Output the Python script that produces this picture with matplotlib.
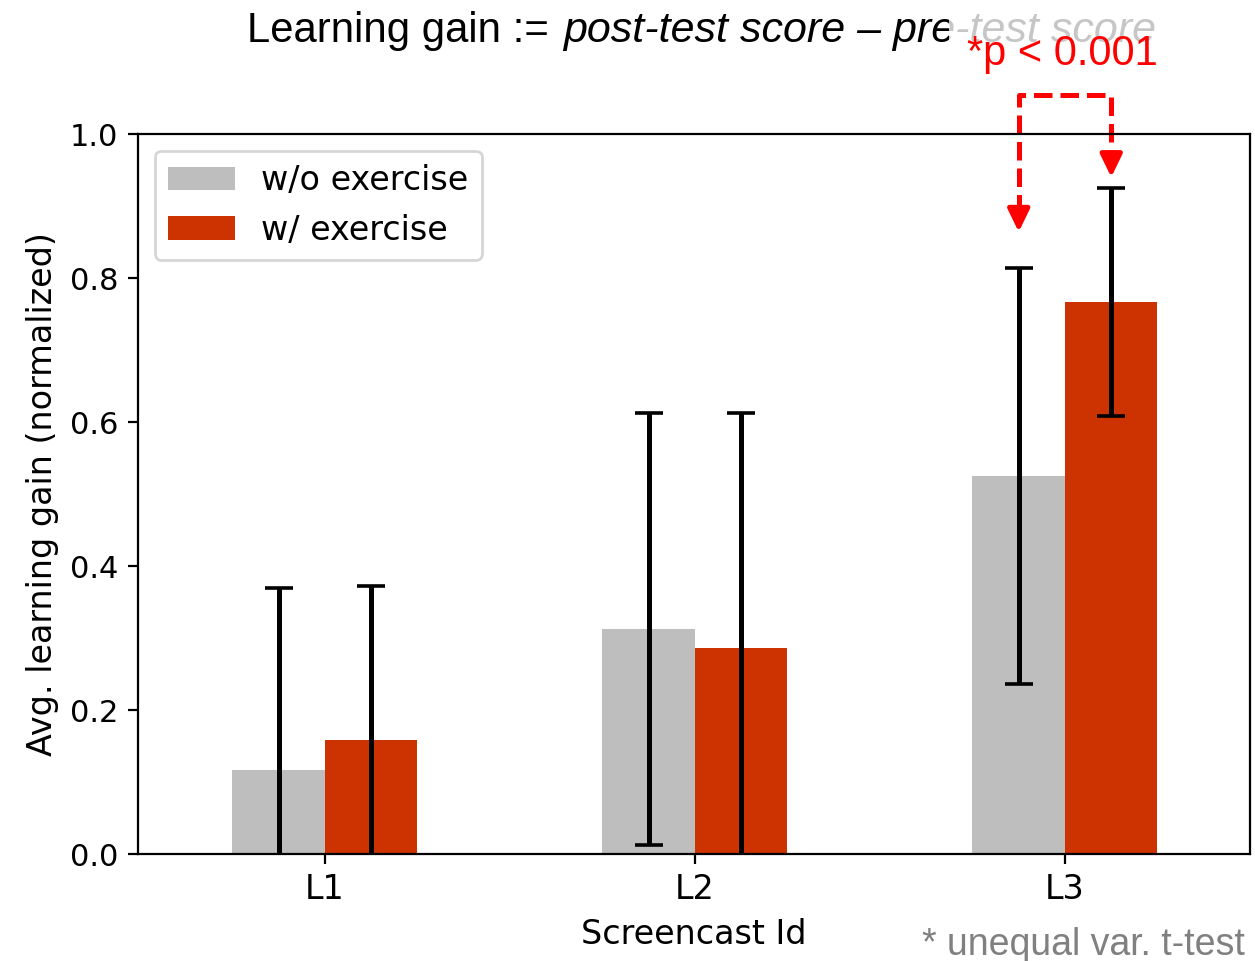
import numpy as np
import matplotlib.pyplot as plt
from matplotlib.patches import Rectangle

# Screencasts and per-condition average learning gain (mean, std)
screencasts = ["L1", "L2", "L3"]
gain_without = [0.117, 0.3125, 0.525]
err_without = [0.252, 0.300, 0.289]
gain_with = [0.158, 0.286, 0.767]
err_with = [0.214, 0.326, 0.158]

# significance bracket over L3 (top of bracket, arrow tips)
sig_idx = 2
sig_top = 1.054
sig_tips = [0.864, 0.940]

C_WITHOUT = "#bebebe"
C_WITH = "#cc3300"
W = 0.25
DPI = 200

fig = plt.figure(figsize=(1255 / DPI, 961 / DPI), dpi=DPI)
ax = fig.add_axes([138 / 1255, 1 - 854 / 961, (1250 - 138) / 1255, (854 - 134) / 961])

x = np.arange(len(screencasts))
ax.bar(x - W / 2, gain_without, W, color=C_WITHOUT, label="w/o exercise")
ax.bar(x + W / 2, gain_with, W, color=C_WITH, label="w/ exercise")
ekw = dict(fmt="none", ecolor="black", elinewidth=1.8, capsize=5, capthick=1.3)
ax.errorbar(x - W / 2, gain_without, yerr=err_without, **ekw)
ax.errorbar(x + W / 2, gain_with, yerr=err_with, **ekw)

ax.set_xlim(-0.505, 2.5)
ax.set_ylim(0, 1.0)
ax.set_xticks(x)
ax.set_xticklabels(screencasts, fontsize=12)
ax.tick_params(axis="y", labelsize=11)
ax.set_xlabel("Screencast Id", fontsize=12)
ax.set_ylabel("Avg. learning gain (normalized)", fontsize=12)
ax.legend(loc="upper left", fontsize=12)

# dashed bracket with arrow heads between the two L3 bars
xl, xr = sig_idx - W / 2, sig_idx + W / 2
head = 0.026
ax.plot([xl, xl, xr, xr], [sig_tips[0] + head, sig_top, sig_top, sig_tips[1] + head],
        color="red", lw=1.8, ls="--", clip_on=False)
for xp, tip in zip([xl, xr], sig_tips):
    ax.annotate("", xy=(xp, tip), xytext=(xp, tip + head + 0.002),
                arrowprops=dict(arrowstyle="-|>,head_length=0.68,head_width=0.33",
                                color="red", lw=1.8, shrinkA=0, shrinkB=0),
                annotation_clip=False)

# title: definition of learning gain
sans = "Liberation Sans"
fig.text(247 / 1255, 1 - 42 / 961, "Learning gain :=", family=sans, fontsize=15.1,
         ha="left", va="baseline", zorder=3)
fig.text(563 / 1255, 1 - 42 / 961, "post-test score \u2013 pre-test score", family=sans,
         fontsize=15.5, style="italic", ha="left", va="baseline", zorder=3)
fig.patches.append(Rectangle((949 / 1255, 1 - 75 / 961), 230 / 1255, 75 / 961,
                             transform=fig.transFigure, facecolor="white",
                             edgecolor="none", alpha=0.78, zorder=4))
fig.text(967 / 1255, 1 - 65 / 961, "*p < 0.001", family=sans, fontsize=15,
         color="red", ha="left", va="baseline", zorder=5)
fig.text(1245 / 1255, 1 - 955 / 961, "* unequal var. t-test", family=sans,
         fontsize=13.5, color="#808080", ha="right", va="baseline")

fig.savefig("out.png", dpi=DPI)
